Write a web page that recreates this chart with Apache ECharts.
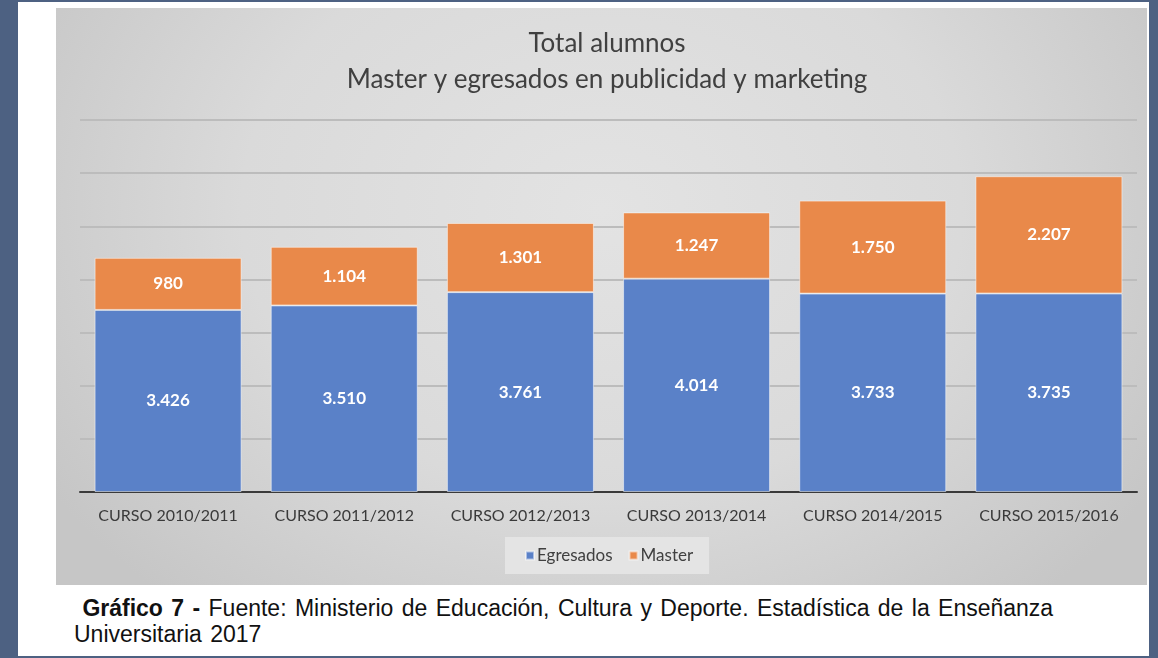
<!DOCTYPE html>
<html>
<head>
<meta charset="utf-8">
<script src="https://cdn.jsdelivr.net/npm/echarts@6/dist/echarts.min.js"></script>
<style>
    html, body {
        margin: 0;
        padding: 0;
        width: 1158px;
        height: 658px;
        background: #4d6182;
        overflow: hidden;
    }

    .page {
        position: absolute;
        left: 18px;
        top: 2px;
        width: 1131px;
        height: 654px;
        background: #ffffff;
    }

    #chart {
        position: absolute;
        left: 56px;
        top: 8px;
        width: 1091px;
        height: 577px;
        background: radial-gradient(ellipse 60% 90% at 50% 35%, #e3e3e3 0%, #dadada 55%, #c6c6c6 100%);
    }

    .caption {
        position: absolute;
        left: 74px;
        top: 595px;
        font-family: "Liberation Sans", Arial, sans-serif;
        font-size: 23px;
        line-height: 26px;
        word-spacing: 2px;
        color: #111;
    }
</style>
</head>
<body>
<div class="page"></div>
<div id="chart"></div>
<div class="caption">&nbsp;<b>Gráfico 7 -</b> Fuente: Ministerio de Educación, Cultura y Deporte. Estadística de la Enseñanza<br>Universitaria 2017</div>

<script>
    // datos
    var cursos = ['CURSO 2010/2011', 'CURSO 2011/2012', 'CURSO 2012/2013', 'CURSO 2013/2014', 'CURSO 2014/2015', 'CURSO 2015/2016'];
    var egresados = [3426, 3510, 3761, 4014, 3733, 3735];
    var master = [980, 1104, 1301, 1247, 1750, 2207];

    var fmt = function (p) {
        return String(p.value).replace(/\B(?=(\d{3})+(?!\d))/g, '.');
    };

    var chart = echarts.init(document.getElementById('chart'));
    chart.setOption({
        animation: false,
        textStyle: {fontFamily: 'Lato, "Open Sans", sans-serif'},
        title: {
            text: 'Total alumnos\nMaster y egresados en publicidad y marketing',
            left: 546,
            top: 13,
            textAlign: 'center',
            textStyle: {
                fontFamily: 'Lato, "Open Sans", sans-serif',
                fontSize: 26,
                fontWeight: 'normal',
                color: '#404040',
                lineHeight: 36
            }
        },
        legend: {
            data: ['Egresados', 'Master'],
            left: 449,
            top: 529,
            backgroundColor: '#e4e4e4',
            padding: [10, 16, 10, 20],
            itemWidth: 8,
            itemHeight: 8,
            itemGap: 16,
            icon: 'rect',
            textStyle: {fontSize: 17, color: '#404040', padding: [0, 0, 0, -2]}
        },
        grid: {
            left: 24,
            right: 10,
            top: 112,
            bottom: 93
        },
        xAxis: {
            type: 'category',
            data: cursos,
            axisTick: {show: false},
            axisLine: {lineStyle: {color: '#3a3a3a', width: 2}},
            axisLabel: {
                interval: 0,
                fontSize: 16,
                color: '#3a3a3a',
                margin: 16
            }
        },
        yAxis: {
            type: 'value',
            min: 0,
            max: 7000,
            interval: 1000,
            axisLabel: {show: false},
            axisLine: {show: false},
            axisTick: {show: false},
            splitLine: {lineStyle: {color: '#bcbcbc', width: 2}}
        },
        series: [{
            name: 'Egresados',
            type: 'bar',
            stack: 'total',
            data: egresados,
            barWidth: 147,
            itemStyle: {color: '#5a81c8', borderColor: 'rgba(255,255,255,0.5)', borderWidth: 1},
            label: {
                show: true,
                position: 'inside',
                formatter: fmt,
                color: '#fff',
                fontWeight: 'bold',
                fontSize: 17
            }
        }, {
            name: 'Master',
            type: 'bar',
            stack: 'total',
            data: master,
            barWidth: 147,
            itemStyle: {color: '#e9894a', borderColor: 'rgba(255,255,255,0.5)', borderWidth: 1},
            label: {
                show: true,
                position: 'inside',
                formatter: fmt,
                color: '#fff',
                fontWeight: 'bold',
                fontSize: 17
            }
        }]
    });
</script>
</body>
</html>
